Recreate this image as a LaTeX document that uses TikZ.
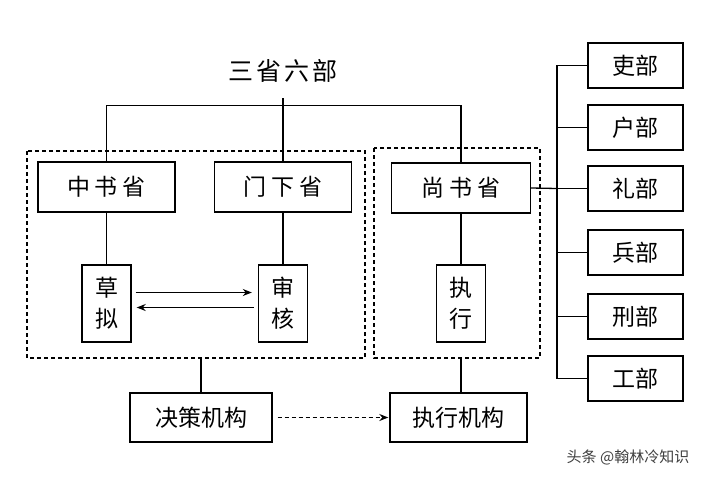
\documentclass[tikz,border=0pt]{standalone}
\usepackage{fontspec}
\newfontfamily\cjk{Noto Sans CJK SC}
\usetikzlibrary{arrows.meta}
\begin{document}
\begin{tikzpicture}[x=1pt,y=-1pt,
  box/.style={draw,line width=1.4pt,inner sep=0pt,font=\cjk\fontsize{23}{27}\selectfont,align=center},
  conn/.style={line width=1.3pt},
  dbox/.style={line width=1.1pt,dash pattern=on 4pt off 3pt},
  arr/.style={line width=1.2pt,-{Stealth[length=9pt,width=7pt]}}]
\useasboundingbox[fill=white] (0,0) rectangle (720,477);
% title
\node[font=\cjk\fontsize{25}{29}\selectfont] (title) at (283,71) {三\hspace{3pt}省\hspace{3pt}六\hspace{3pt}部};
% dashed groups
\draw[dbox] (27,151) rectangle (365,358);
\draw[dbox] (374,148) rectangle (540,358);
\coordinate (dl) at (201,358);
\coordinate (dr) at (461,358);
% three provinces
\node[box,minimum width=137pt,minimum height=50pt] (zs) at (106.5,187) {中\hspace{5pt}书\hspace{5pt}省};
\node[box,minimum width=137pt,minimum height=50pt] (mx) at (283,187) {门\hspace{5pt}下\hspace{5pt}省};
\node[box,minimum width=139pt,minimum height=50pt] (ss) at (461,188) {尚\hspace{5pt}书\hspace{5pt}省};
% inner boxes
\node[box,minimum width=49pt,minimum height=77pt] (cn) at (106.5,303.5) {草\\[4pt]拟};
\node[box,minimum width=49pt,minimum height=77pt] (sh) at (283,303.5) {审\\[4pt]核};
\node[box,minimum width=49pt,minimum height=77pt] (zx) at (461,303.5) {执\\[4pt]行};
% bottom boxes
\node[box,minimum width=142pt,minimum height=49pt] (jc) at (201,417.5) {决策机构};
\node[box,minimum width=137pt,minimum height=49pt] (zj) at (458.5,417.5) {执行机构};
% six ministries
\node[box,minimum width=95pt,minimum height=45pt] (lb) at (635.5,65.5) {吏部};
\node[box,minimum width=95pt,minimum height=45pt] (hb) at (635.5,127.5) {户部};
\node[box,minimum width=95pt,minimum height=45pt] (lib) at (635.5,188.5) {礼部};
\node[box,minimum width=95pt,minimum height=45pt] (bb) at (635.5,252.5) {兵部};
\node[box,minimum width=95pt,minimum height=45pt] (xb) at (635.5,316.5) {刑部};
\node[box,minimum width=95pt,minimum height=45pt] (gb) at (635.5,378.5) {工部};
\coordinate (rt) at (557,65.5);
\coordinate (rb) at (557,378.5);
% connectors
\draw[conn] ([yshift=-12pt]title.south) -- (mx.north);
\draw[conn] (zs.north) -- ++(0,-56) -| (ss.north);
\draw[conn] (zs.south) -- (cn.north);
\draw[conn] (mx.south) -- (sh.north);
\draw[conn] (ss.south) -- (zx.north);
\draw[conn] (dl) -- (jc.north);
\draw[conn] (dr) -- (zj.north -| dr);
\draw[conn] (lb.west) -- (rt) -- (rb) -- (gb.west);
\foreach \n in {hb,lib,bb,xb} \draw[conn] (\n.west) -- (\n.west -| rt);
\draw[conn] (ss.east) -- (lib.west -| rt);
% arrows
\draw[arr] ([yshift=11pt,xshift=4pt]cn.east) -- ([yshift=11pt,xshift=-6pt]sh.west);
\draw[arr] ([yshift=-4pt,xshift=-4pt]sh.west) -- ([yshift=-4pt,xshift=5pt]cn.east);
\draw[arr,dash pattern=on 4pt off 3pt] ([xshift=5pt]jc.east) -- ([xshift=-1pt]zj.west);
% watermark
\node[font=\cjk\fontsize{15}{18}\selectfont,text=black!75] (wm) at (628,457) {头条 @翰林冷知识};
\end{tikzpicture}
\end{document}
